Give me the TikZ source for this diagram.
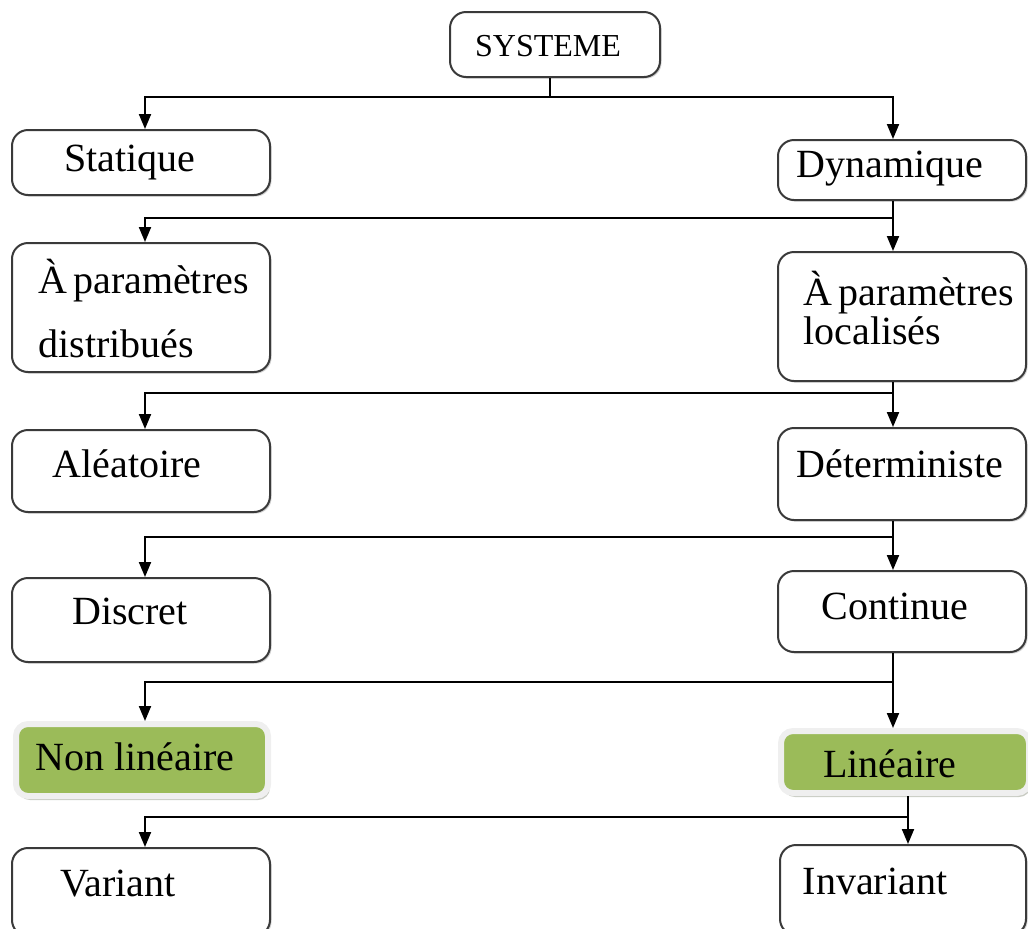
\documentclass[tikz,border=0pt]{standalone}
\usepackage{fontspec}
\setmainfont{Liberation Serif}
\usetikzlibrary{arrows.meta,shadows}
\definecolor{boxline}{HTML}{3A3A3A}
\definecolor{olive}{HTML}{9BBB59}
\definecolor{glow}{HTML}{EFEFEF}
\tikzset{
  box/.style={draw=boxline, line width=1pt, rounded corners=8pt, fill=white,
    drop shadow={shadow xshift=0.8pt, shadow yshift=-0.8pt, opacity=0.35},
    inner sep=0pt, minimum width=#1},
  greenbox/.style={draw=glow, line width=3pt, rounded corners=6pt, fill=olive,
    drop shadow={shadow xshift=1pt, shadow yshift=-2pt, opacity=0.45, fill=gray!80!olive},
    inner sep=0pt, minimum width=#1},
  lbl/.style={font=\fontsize{20}{24}\selectfont, inner sep=0pt},
  conn/.style={line width=1pt, black},
  arr/.style={conn, -{Triangle[length=7.5pt,width=6pt]}},
}
\begin{document}
\begin{tikzpicture}[x=0.5pt,y=-0.5pt]
\useasboundingbox (0,0) rectangle (1028,928);
% boxes
\node[box=105pt, minimum height=32.5pt] (sys) at (555,44.5) {};
\node[box=129pt, minimum height=32.5pt] (stat) at (141,162.5) {};
\node[box=124pt, minimum height=30pt] (dyn) at (902,170) {};
\node[box=129pt, minimum height=64.5pt] (dist) at (141,307.5) {};
\node[box=124pt, minimum height=64.5pt] (loc) at (902,316.5) {};
\node[box=129pt, minimum height=41pt] (alea) at (141,471) {};
\node[box=124pt, minimum height=46pt] (det) at (902,474) {};
\node[box=129pt, minimum height=42pt] (disc) at (141,620) {};
\node[box=124pt, minimum height=40.5pt] (cont) at (902,611.5) {};
\node[greenbox=126pt, minimum height=36pt] (nlin) at (142,760) {};
\node[greenbox=124pt, minimum height=31pt] (lin) at (905,762) {};
\node[box=129pt, minimum height=44pt] (var) at (141,892) {};
\node[box=123pt, minimum height=45pt] (inv) at (903,890) {};
% labels
\node[lbl, font=\fontsize{16}{19}\selectfont] (tsys) at (548,46) {SYSTEME};
\node[lbl] (tstat) at (130,163) {Statique};
\node[lbl] (tdyn) at (890,169) {Dynamique};
\node[lbl, anchor=west] (tdist1) at (38,281) {À\hspace{0.15em}paramètres};
\node[lbl, anchor=west] (tdist2) at (38,344) {distribués};
\node[lbl, anchor=west] (tloc1) at (803,293) {À\hspace{0.15em}paramètres};
\node[lbl, anchor=west] (tloc2) at (803,331) {localisés};
\node[lbl] (talea) at (127,464) {Aléatoire};
\node[lbl] (tdet) at (900,464) {Déterministe};
\node[lbl] (tdisc) at (130,611) {Discret};
\node[lbl] (tcont) at (895,606) {Continue};
\node[lbl] (tnlin) at (135,757) {Non linéaire};
\node[lbl] (tlin) at (890,764) {Linéaire};
\node[lbl] (tvar) at (118,884) {Variant};
\node[lbl] (tinv) at (875,881) {Invariant};
% connectors
\coordinate (j1) at (550,97);
\draw[conn] (sys.south -| j1) -- (j1);
\draw[arr] (j1) -| ([xshift=2pt]stat.north);
\draw[arr] (j1) -| ([xshift=-4.5pt]dyn.north);
\coordinate (j2) at (893,218);
\draw[conn] ([xshift=-4.5pt]dyn.south) -- (j2);
\draw[arr] (j2) -| ([xshift=2pt]dist.north);
\draw[arr] (j2) -- ([xshift=-4.5pt]loc.north);
\coordinate (j3) at (893,393);
\draw[conn] ([xshift=-4.5pt]loc.south) -- (j3);
\draw[arr] (j3) -| ([xshift=2pt]alea.north);
\draw[arr] (j3) -- ([xshift=-4.5pt]det.north);
\coordinate (j4) at (893,537);
\draw[conn] ([xshift=-4.5pt]det.south) -- (j4);
\draw[arr] (j4) -| ([xshift=2pt]disc.north);
\draw[arr] (j4) -- ([xshift=-4.5pt]cont.north);
\coordinate (j5) at (893,682);
\draw[conn] ([xshift=-4.5pt]cont.south) -- (j5);
\draw[arr] (j5) -| ([xshift=1.5pt]nlin.north);
\draw[arr] (j5) -- ([xshift=-6pt]lin.north);
\coordinate (j6) at (908,817);
\draw[conn] ([xshift=1.5pt]lin.south) -- (j6);
\draw[arr] (j6) -| ([xshift=2pt]var.north);
\draw[arr] (j6) -- ([xshift=2.5pt]inv.north);
\end{tikzpicture}
\end{document}
